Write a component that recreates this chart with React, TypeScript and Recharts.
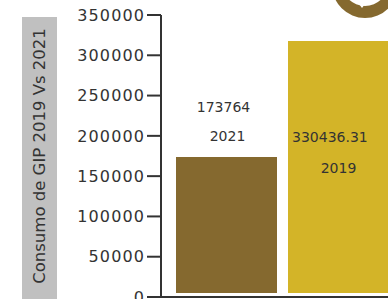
import React from 'react';
import { BarChart, Bar, XAxis, YAxis, Rectangle } from 'recharts';

const years = ['2021', '2019'];
const barValues = [173764, 317700];
const valueLabels = ['173764', '330436.31'];
const yTicks = [0, 50000, 100000, 150000, 200000, 250000, 300000, 350000];
const yAxisTitle = 'Consumo de GIP 2019 Vs 2021';

const data = years.map((y, i) => ({ year: y, value: barValues[i], label: valueLabels[i] }));

const COLORS = ['#85692f', '#d3b428'];
const FONT = '"DejaVu Sans", sans-serif';
const TXT = '#333333';

const BarShape = (props: any) => {
  const { x, y, width, height, index } = props;
  const i = typeof index === 'number' ? index : years.indexOf(props.payload?.year);
  const cx = x + width / 2;
  const rect = (
    <Rectangle x={x} y={y} width={width} height={Math.max(0, height - 4)} fill={COLORS[i]} />
  );
  if (i === 0) {
    return (
      <g>
        {rect}
        <text x={cx - 3} y={y - 45} textAnchor="middle" fontSize={14} fill={TXT} fontFamily={FONT}>
          {data[i].label}
        </text>
        <text x={cx + 1} y={y - 16} textAnchor="middle" fontSize={14} fill={TXT} fontFamily={FONT}>
          {data[i].year}
        </text>
      </g>
    );
  }
  return (
    <g>
      {rect}
      <text x={x + 4} y={y + 101} textAnchor="start" fontSize={14} fill={TXT} fontFamily={FONT}>
        {data[i].label}
      </text>
      <text x={cx} y={y + 132} textAnchor="middle" fontSize={14} fill={TXT} fontFamily={FONT}>
        {data[i].year}
      </text>
    </g>
  );
};

export default function App() {
  return (
    <div
      style={{
        position: 'absolute',
        left: 0,
        top: 0,
        width: 388,
        height: 299,
        overflow: 'hidden',
        background: '#fff',
      }}
    >
      <svg width={388} height={299} style={{ position: 'absolute', left: 0, top: 0 }}>
        <rect x={22} y={17} width={35} height={290} fill="#c0c0c0" />
        <text
          x={0}
          y={0}
          transform="translate(44.5,156) rotate(-90)"
          textAnchor="middle"
          fontSize={16.5}
          fill={TXT}
          fontFamily={FONT}
        >
          {yAxisTitle}
        </text>
        <circle cx={365} cy={-15} r={33} fill="#85692f" />
        <circle cx={365} cy={-17} r={23} fill="#ffffff" />
        <path d="M356 0 L362 8 L368 0 Z" fill="#ffffff" />
      </svg>
      <div style={{ position: 'absolute', left: 0, top: 0 }}>
        <BarChart width={400} height={299} data={data} margin={{ top: 15, right: 6, bottom: 1, left: 0 }}>
          <XAxis
            dataKey="year"
            height={1}
            tick={false}
            tickLine={false}
            axisLine={{ stroke: '#333', strokeWidth: 2 }}
            padding={{ left: 9, right: 0 }}
          />
          <YAxis
            width={161}
            domain={[0, 350000]}
            ticks={yTicks}
            interval={0}
            tickSize={14}
            tickMargin={2}
            axisLine={{ stroke: '#333', strokeWidth: 2 }}
            tickLine={{ stroke: '#333', strokeWidth: 2 }}
            tick={{ fontSize: 16, fill: TXT, fontFamily: FONT, letterSpacing: 1.1 }}
          />
          <Bar dataKey="value" barSize={101} isAnimationActive={false} shape={BarShape} />
        </BarChart>
      </div>
    </div>
  );
}
